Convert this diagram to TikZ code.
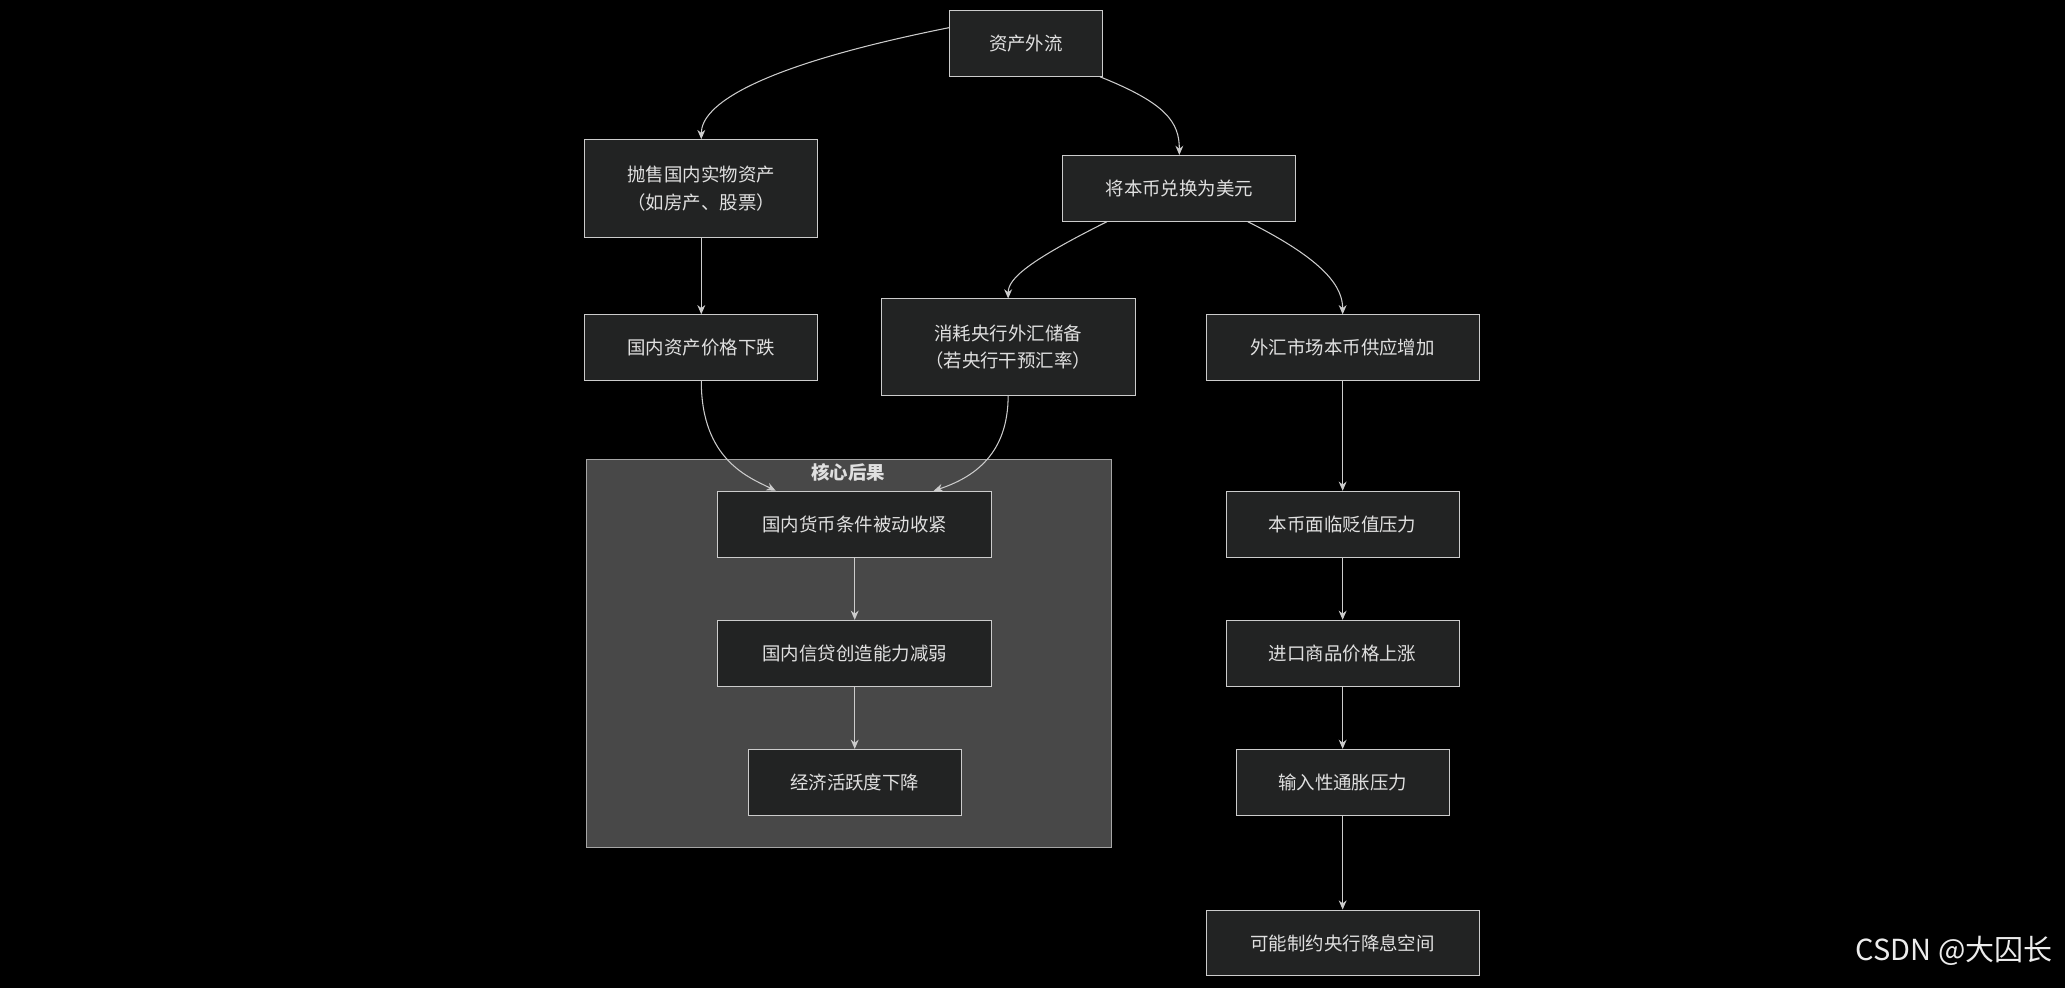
\documentclass[tikz,border=0pt]{standalone}
\usepackage{fontspec}
\setmainfont{Noto Sans CJK SC}
\usetikzlibrary{arrows.meta}
\definecolor{bx}{HTML}{222323}
\definecolor{ln}{HTML}{CCCCCC}
\definecolor{tx}{HTML}{E0E0E0}
\definecolor{cl}{HTML}{484848}
\begin{document}
\begin{tikzpicture}[x=1pt,y=-1pt,
  box/.style={draw=ln,fill=bx,text=tx,line width=0.7pt,align=center,font=\fontsize{14}{21}\selectfont,inner sep=0pt},
  ar/.style={draw=ln,line width=0.8pt,-{Stealth[length=7pt,width=6pt]}}]
\fill[black] (0,0) rectangle (1568,750);
\useasboundingbox (0,0) rectangle (1568,750);
\node[draw=gray!70,fill=cl,minimum width=399pt,minimum height=294pt,inner sep=0pt] (cluster) at (644.5,496) {};
\node[text=tx,font=\bfseries\fontsize{14}{16}\selectfont] (clab) at (644,359) {核心后果};
\node[box,minimum width=116pt,minimum height=50pt] (A) at (779,33) {资产外流};
\node[box,minimum width=177pt,minimum height=74pt] (B) at (532.5,143) {抛售国内实物资产\\（如房产、股票）};
\node[box,minimum width=177pt,minimum height=50pt] (C) at (895.5,143) {将本币兑换为美元};
\node[box,minimum width=177pt,minimum height=50pt] (D) at (532.5,264) {国内资产价格下跌};
\node[box,minimum width=193pt,minimum height=73pt] (E) at (765.5,263.5) {消耗央行外汇储备\\（若央行干预汇率）};
\node[box,minimum width=207pt,minimum height=50pt] (F) at (1019.5,264) {外汇市场本币供应增加};
\node[box,minimum width=208pt,minimum height=50pt] (G) at (649,398) {国内货币条件被动收紧};
\node[box,minimum width=208pt,minimum height=50pt] (H) at (649,496) {国内信贷创造能力减弱};
\node[box,minimum width=162pt,minimum height=50pt] (I) at (649,594) {经济活跃度下降};
\node[box,minimum width=177pt,minimum height=50pt] (J) at (1019.5,398) {本币面临贬值压力};
\node[box,minimum width=177pt,minimum height=50pt] (K) at (1019.5,496) {进口商品价格上涨};
\node[box,minimum width=162pt,minimum height=50pt] (L) at (1019.5,594) {输入性通胀压力};
\node[box,minimum width=207pt,minimum height=50pt] (M) at (1019.5,716) {可能制约央行降息空间};
\node[text=white!85!gray,font=\fontsize{22}{24}\selectfont,anchor=east] (wm) at (1562,722) {CSDN @大囚长};
\draw[ar] ([yshift=12pt]A.west) .. controls +(-150,30) and +(0,-25) .. (B.north);
\draw[ar] ([xshift=-2pt]A.south east) .. controls +(50,20) and +(0,-25) .. (C.north);
\draw[ar] ([xshift=-55pt]C.south) .. controls +(-60,30) and +(0,-15) .. (E.north);
\draw[ar] ([xshift=52pt]C.south) .. controls +(60,30) and +(0,-20) .. (F.north);
\draw[ar] (B) -- (D);
\draw[ar] (D.south) .. controls +(0,60) and +(-20,-10) .. ([xshift=-60pt]G.north);
\draw[ar] (E.south) .. controls +(0,45) and +(30,-10) .. ([xshift=60pt]G.north);
\draw[ar] (F) -- (J);
\draw[ar] (J) -- (K);
\draw[ar] (K) -- (L);
\draw[ar] (L) -- (M);
\draw[ar] (G) -- (H);
\draw[ar] (H) -- (I);
\end{tikzpicture}
\end{document}
